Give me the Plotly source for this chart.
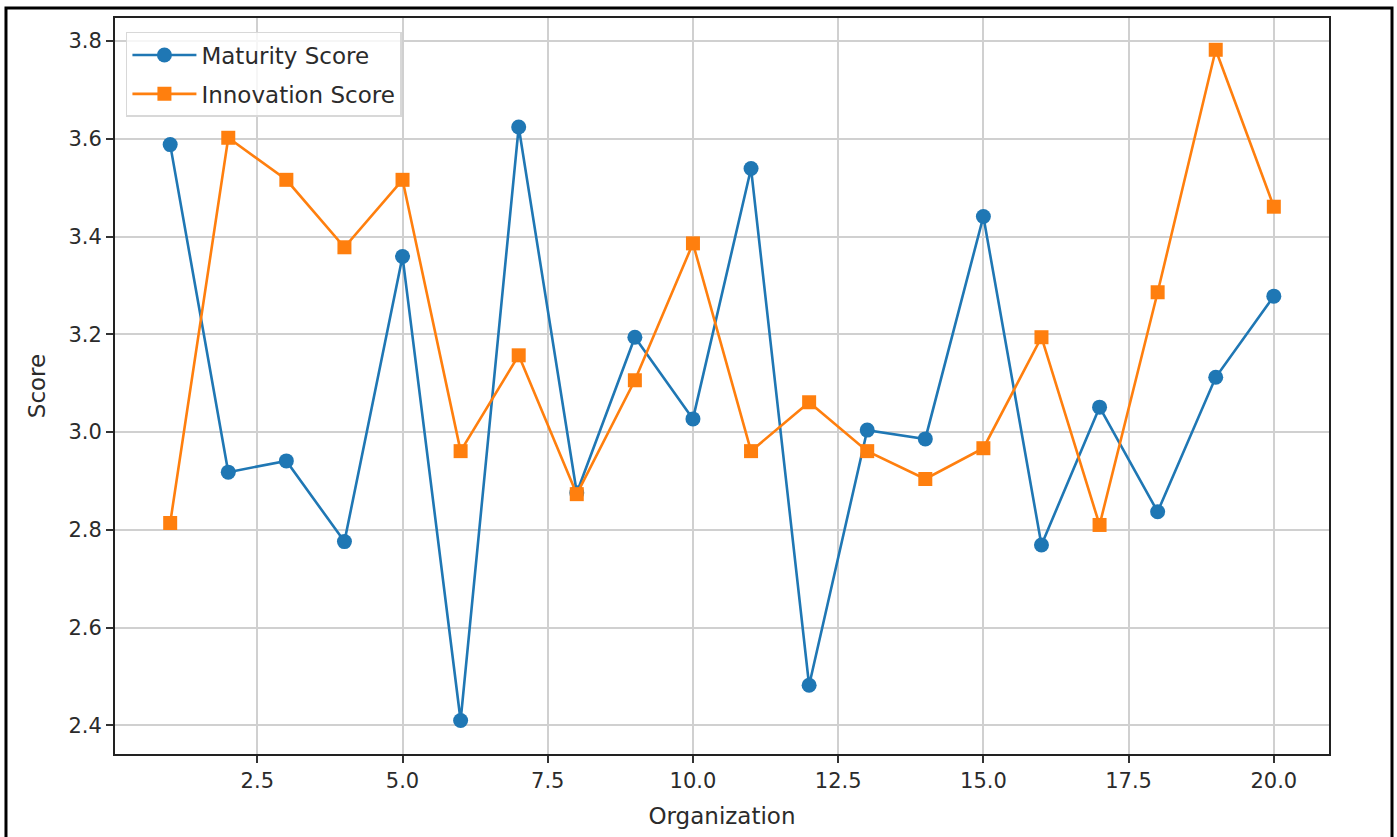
import plotly.graph_objects as go

organizations = list(range(1, 21))
maturity_score = [3.588, 2.918, 2.941, 2.776, 3.359, 2.410, 3.624, 2.876, 3.194, 3.027,
                  3.539, 2.482, 3.004, 2.986, 3.441, 2.769, 3.051, 2.837, 3.112, 3.278]
innovation_score = [2.814, 3.602, 3.516, 3.378, 3.516, 2.961, 3.157, 2.873, 3.106, 3.386,
                    2.961, 3.061, 2.961, 2.904, 2.967, 3.194, 2.810, 3.286, 3.782, 3.461]

x_ticks = [2.5, 5.0, 7.5, 10.0, 12.5, 15.0, 17.5, 20.0]
y_ticks = [2.4, 2.6, 2.8, 3.0, 3.2, 3.4, 3.6, 3.8]

BLUE = "#1f77b4"
ORANGE = "#ff7f0e"
FONT = "DejaVu Sans"
TXT = "#2b2b2b"

fig = go.Figure()
fig.add_trace(go.Scatter(x=organizations, y=maturity_score, mode="lines+markers",
                         name="Maturity Score", legendgroup="m",
                         line=dict(color=BLUE, width=2.6),
                         marker=dict(symbol="circle", size=15, color=BLUE)))
fig.add_trace(go.Scatter(x=organizations, y=innovation_score, mode="lines+markers",
                         name="Innovation Score", legendgroup="i",
                         line=dict(color=ORANGE, width=2.6),
                         marker=dict(symbol="square", size=14, color=ORANGE)))

axis_common = dict(showline=True, linecolor="#222", linewidth=2, mirror=True,
                   showgrid=True, gridcolor="#d0d0d0", gridwidth=2,
                   ticks="outside", ticklen=7, tickwidth=1.6, tickcolor="#333",
                   zeroline=False, tickfont=dict(family=FONT, size=21, color=TXT))

fig.update_xaxes(range=[0.05, 20.95], tickvals=x_ticks,
                 ticktext=[f"{v:.1f}" for v in x_ticks],
                 title=dict(text="Organization", font=dict(family=FONT, size=23, color=TXT),
                            standoff=16),
                 **axis_common)
fig.update_yaxes(range=[2.3415, 3.847], tickvals=y_ticks,
                 ticktext=[f"{v:.1f}" for v in y_ticks],
                 title=dict(text="Score", font=dict(family=FONT, size=23, color=TXT),
                            standoff=16),
                 **axis_common)

fig.update_layout(
    width=1397, height=837,
    margin=dict(l=115, r=68, t=18, b=77),
    paper_bgcolor="white", plot_bgcolor="white",
    font=dict(family=FONT, color=TXT),
    showlegend=True,
    legend=dict(x=0.009, y=0.981, xanchor="left", yanchor="top",
                bgcolor="rgba(255,255,255,0.8)", bordercolor="#d8d8d8", borderwidth=1.5,
                font=dict(family=FONT, size=23, color=TXT),
                traceorder="grouped", tracegroupgap=6, itemwidth=64),
    shapes=[dict(type="rect", xref="paper", yref="paper",
                 x0=-0.0898, x1=1.0519, y0=-0.2, y1=1.0135,
                 line=dict(color="black", width=3), fillcolor="rgba(0,0,0,0)", layer="above")],
)

fig.write_html("out.html", config={"displayModeBar": False},
               post_script="document.body.style.margin='0px';document.body.style.overflow='hidden';")
